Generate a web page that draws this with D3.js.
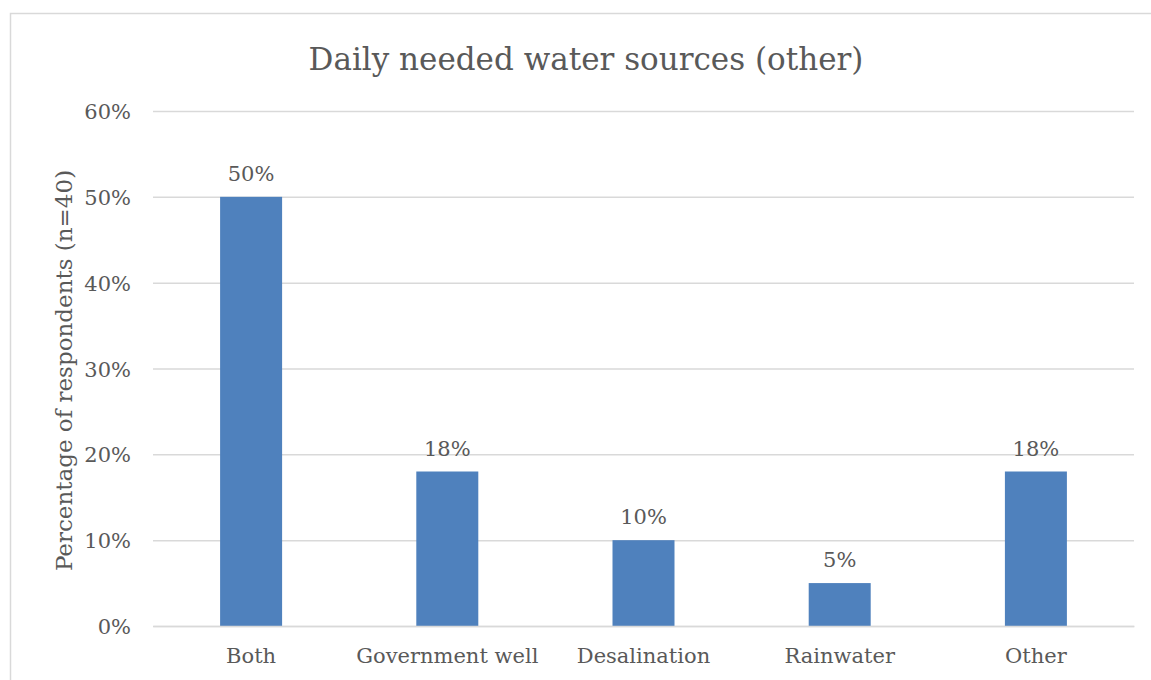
<!DOCTYPE html>
<html>
<head>
<meta charset="utf-8">
<script src="https://cdn.jsdelivr.net/npm/d3@7"></script>
<style>
  html, body { margin: 0; padding: 0; background: #fff; }
  svg text { font-family: "DejaVu Serif", "Liberation Serif", serif; fill: #595959; }
</style>
</head>
<body>
<svg id="chart" width="1151" height="680"></svg>
<script>
// Survey responses: daily needed water sources (other)
const categories = ["Both", "Government well", "Desalination", "Rainwater", "Other"];
const shares = [0.50, 0.18, 0.10, 0.05, 0.18];
const tickValues = [0, 0.1, 0.2, 0.3, 0.4, 0.5, 0.6];

const title = "Daily needed water sources (other)";
const yTitle = "Percentage of respondents (n=40)";

const svg = d3.select("#chart");
const W = 1151, H = 680;
const margin = { left: 153, right: 17, top: 111, bottom: 54 };
const plotR = W - margin.right, plotB = H - margin.bottom;

// Chart frame
svg.append("rect")
  .attr("x", 10.5).attr("y", 13.5)
  .attr("width", W + 20).attr("height", H + 20)
  .attr("fill", "#fff").attr("stroke", "#d9d9d9").attr("stroke-width", 1.5);

const x = d3.scaleBand().domain(categories).range([margin.left, plotR]).paddingInner(0.684).paddingOuter(0.342);
const y = d3.scaleLinear().domain([0, 0.6]).range([plotB, margin.top]);
const fmt = d3.format(".0%");

// Gridlines and tick labels via a left axis
const yAxis = d3.axisLeft(y).tickValues(tickValues).tickFormat(fmt)
  .tickSize(-(plotR - margin.left)).tickPadding(22);
const gy = svg.append("g").attr("transform", `translate(${margin.left},0)`).call(yAxis);
gy.select(".domain").remove();
gy.selectAll(".tick line").attr("stroke", "#d9d9d9").attr("stroke-width", 1.5);
gy.selectAll(".tick text").attr("font-size", 21).attr("font-family", null).attr("dy", "0.36em").style("fill", "#595959");

// Bars
const rows = categories.map((c, i) => ({ c, v: shares[i] }));
svg.append("g").selectAll("rect")
  .data(rows)
  .join("rect")
  .attr("x", d => x(d.c))
  .attr("y", d => y(d.v))
  .attr("width", x.bandwidth())
  .attr("height", d => y(0) - y(d.v))
  .attr("fill", "#4f81bd");

// Value labels above each bar
svg.append("g").selectAll("text")
  .data(rows)
  .join("text")
  .attr("x", d => x(d.c) + x.bandwidth() / 2)
  .attr("y", d => y(d.v) - 16)
  .attr("text-anchor", "middle")
  .attr("font-size", 21)
  .text(d => fmt(d.v));

// Category axis
const xAxis = d3.axisBottom(x).tickSize(0).tickPadding(22);
const gx = svg.append("g").attr("transform", `translate(0,${plotB})`).call(xAxis);
gx.select(".domain").attr("stroke", "#d9d9d9").attr("stroke-width", 1.5);
gx.selectAll(".tick text").attr("font-size", 21).attr("font-family", null).attr("dy", "0.71em").style("fill", "#595959");

// Titles
svg.append("text")
  .attr("x", 586).attr("y", 70)
  .attr("text-anchor", "middle")
  .attr("font-size", 31)
  .text(title);

svg.append("text")
  .attr("transform", `translate(72,${(margin.top + plotB) / 2 + 2}) rotate(-90)`)
  .attr("text-anchor", "middle")
  .attr("font-size", 23)
  .text(yTitle);
</script>
</body>
</html>
